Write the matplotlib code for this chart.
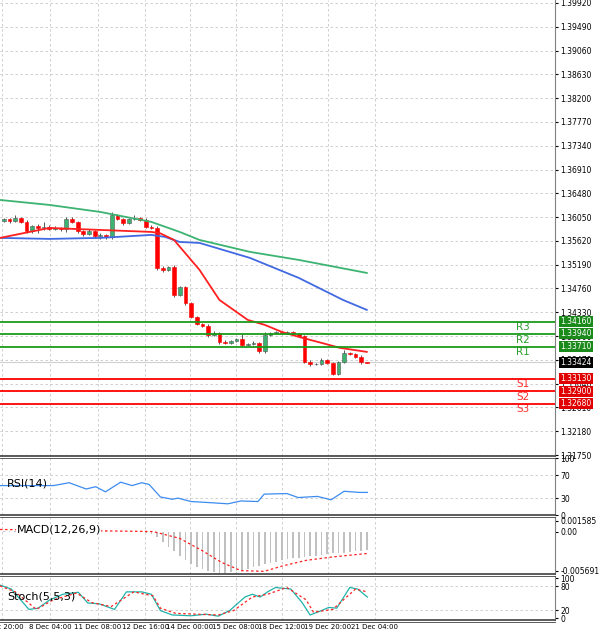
import matplotlib.pyplot as plt
import matplotlib.transforms as mtransforms

# ---- data ----
closes = [1.3601, 1.3598, 1.3603, 1.3597, 1.3580, 1.3589, 1.3585, 1.3588, 1.3584, 1.3586,
          1.3583, 1.3602, 1.3596, 1.3580, 1.3574, 1.3580, 1.3570, 1.3573, 1.3569, 1.3608,
          1.3601, 1.3594, 1.3601, 1.3603, 1.3600, 1.3588, 1.3586,
          1.3513, 1.3509, 1.3515, 1.3464, 1.3478, 1.3449, 1.3425, 1.3412, 1.3409, 1.3392,
          1.3396, 1.3380, 1.3378, 1.3381, 1.3385, 1.3374, 1.3376, 1.3378, 1.3363, 1.3392,
          1.3395, 1.3398, 1.3396, 1.3397, 1.3394, 1.3390, 1.3344,
          1.3339, 1.3340, 1.3347, 1.3342, 1.3322, 1.3343, 1.3359, 1.3358, 1.3353, 1.3343, 1.3342]
first_open = 1.3598
wick_up = [3, 2, 5, 2, 3, 2, 3, 8, 2, 3, 2, 4, 3, 2, 2, 3, 2, 3, 2, 6,
           3, 2, 2, 6, 2, 3, 2, 3, 4, 2, 3, 2, 2, 3, 2, 2, 2, 3, 2, 3,
           2, 2, 8, 2, 3, 2, 6, 3, 2, 2, 2, 3, 2, 2, 2, 2, 3, 2, 2, 2,
           5, 2, 2, 3, 1]
wick_dn = [2, 3, 2, 3, 4, 3, 8, 3, 3, 2, 3, 5, 2, 3, 3, 2, 3, 4, 3, 3,
           2, 3, 2, 2, 2, 3, 2, 4, 3, 2, 3, 2, 2, 3, 2, 2, 3, 2, 5, 3,
           2, 2, 3, 2, 2, 3, 4, 2, 2, 3, 2, 3, 2, 3, 3, 2, 2, 2, 3, 3,
           2, 2, 2, 3, 1]

ma_red_x = [-0.7, 8, 17, 26, 27.5, 30, 34.5, 38, 43, 46, 49, 52, 56, 59.3, 64]
ma_red_y = [1.35674, 1.35854, 1.35818, 1.35782, 1.35760, 1.35637, 1.35095, 1.34553,
            1.34192, 1.34102, 1.33975, 1.33885, 1.33777, 1.33686, 1.33614]
ma_blue_x = [-0.7, 8, 17, 26, 28.4, 31, 34.5, 43.4, 52, 59.8, 64]
ma_blue_y = [1.35674, 1.35656, 1.35674, 1.35728, 1.35692, 1.35601, 1.35583, 1.35312,
             1.34951, 1.34553, 1.34373]
ma_green_x = [-0.7, 8, 17, 26, 31, 34.5, 43.4, 52, 64]
ma_green_y = [1.36360, 1.36270, 1.36143, 1.35963, 1.35782, 1.35637, 1.35421, 1.35276, 1.35041]

res_levels = [1.34160, 1.33940, 1.33710]
res_names = ['R3', 'R2', 'R1']
sup_levels = [1.33130, 1.32900, 1.32680]
sup_names = ['S1', 'S2', 'S3']
last_price = 1.33424

price_ticks = [1.39920, 1.39490, 1.39060, 1.38630, 1.38200, 1.37770, 1.37340, 1.36910,
               1.36480, 1.36050, 1.35620, 1.35190, 1.34760, 1.34330, 1.33900, 1.33470,
               1.33040, 1.32610, 1.32180, 1.31750]

rsi_x = [-0.7, 8.7, 11.5, 14.5, 16.2, 17.9, 20.6, 22.6, 24.3, 25.6, 27.6, 29.7, 30.7,
         33.0, 36.4, 39.5, 41.8, 44.8, 45.9, 49.9, 51.9, 55.3, 57.7, 60.0, 62.7, 64.1]
rsi_y = [52, 52, 57, 46, 50, 41, 58, 52, 57, 54, 32, 28, 30, 24, 22, 20, 25, 24, 37,
         38, 31, 33, 27, 42, 40, 40]

macd_hist = [0.0001, 0.0001, 0.0001, 0.0, 0.0, 0.0, 0.0, 0.0, 0.0, 0.0, 0.0, 0.0, 0.0,
             0.0, 0.0, 0.0001, 0.0001, 0.0001, 0.0001, 0.0, 0.0, 0.0, 0.0, -0.0001,
             -0.0001, -0.0002,
             -0.0004, -0.0008, -0.0015, -0.0022, -0.0029, -0.0036, -0.0042, -0.0047,
             -0.0051, -0.0054, -0.0057, -0.0059, -0.0060, -0.0060, -0.0059, -0.0058,
             -0.0056, -0.0054, -0.0052, -0.0050, -0.0048, -0.0046, -0.0044, -0.0042,
             -0.0040, -0.0039, -0.0038, -0.0037, -0.0036, -0.0035, -0.0034, -0.0033,
             -0.0032, -0.0032, -0.0031, -0.0030, -0.0029, -0.0028, -0.0027]
macd_sig_x = [-0.7, 26.3, 31, 35, 38.4, 41.8, 45.9, 49.2, 53.3, 58, 64.1]
macd_sig_y = [0.0003, 0.0000, -0.0010, -0.0028, -0.0045, -0.0057, -0.0058, -0.0050,
              -0.0042, -0.0037, -0.0032]

stoch_x = [-0.7, 1.3, 4.4, 6.0, 8.1, 10.4, 13.1, 14.8, 16.8, 19.5, 21.6, 24.3, 26, 27.6,
           29.7, 33, 35.7, 37.8, 39.8, 42.5, 43.8, 45.2, 46.5, 47.9, 50.6, 52.6, 54,
           56, 57.3, 58.7, 61, 62.4, 64.1]
stoch_k = [83, 73, 22, 25, 46, 60, 65, 38, 36, 22, 66, 66, 60, 19, 8, 6, 10, 5, 19, 53,
           60, 53, 66, 77, 73, 39, 8, 19, 27, 25, 77, 73, 53]
stoch_sig_x = [-0.7, 2, 5.7, 8.7, 12.8, 15.5, 18.9, 22.9, 26.3, 27.6, 30.3, 37.8, 40.5,
               43.8, 46.5, 49.9, 53.3, 54.6, 58, 62, 64.1]
stoch_d = [81, 66, 22, 46, 63, 39, 29, 66, 56, 25, 12, 8, 19, 53, 60, 77, 46, 15, 22, 73, 66]

date_pos = [-0.3, 8.1, 16.6, 24.9, 32.8, 40.9, 49.0, 57.1, 65.4]
date_labels = ['7 Dec 20:00', '8 Dec 04:00', '11 Dec 08:00', '12 Dec 16:00', '14 Dec 00:00',
               '15 Dec 08:00', '18 Dec 12:00', '19 Dec 20:00', '21 Dec 04:00']

# ---- figure ----
fig = plt.figure(figsize=(6, 6.4), dpi=100)
W = 0.925
ax = fig.add_axes([0, 0.2875, W, 0.7125])
ax_rsi = fig.add_axes([0, 0.195, W, 0.089])
ax_macd = fig.add_axes([0, 0.103, W, 0.089])
ax_st = fig.add_axes([0, 0.031, W, 0.0685])
xlim = (-0.7, 97.2)
grid_kw = dict(color='#c8c8c8', linestyle=(0, (3, 3)), linewidth=0.6)

for a in (ax, ax_rsi, ax_macd, ax_st):
    a.set_xlim(*xlim)
    a.set_xticks(date_pos)
    a.xaxis.grid(True, **grid_kw)
    a.yaxis.tick_right()
    a.tick_params(axis='y', labelsize=5.5, length=2, pad=2)
    a.tick_params(axis='x', length=0, labelbottom=False)
    for s in ('top', 'bottom', 'left'):
        a.spines[s].set_visible(False)
    a.spines['right'].set_color('#808080')
    a.set_axisbelow(True)

# main price panel
ax.set_ylim(1.31732, 1.39974)
ax.set_yticks(price_ticks)
ax.set_yticklabels([f'{t:.5f}' for t in price_ticks])
ax.yaxis.grid(True, **grid_kw)
ax.axhline(last_price, color='#d0d0d0', linewidth=0.8)

opens = [first_open] + closes[:-1]
for i, (o, c) in enumerate(zip(opens, closes)):
    hi = max(o, c) + wick_up[i] * 0.0001
    lo = min(o, c) - wick_dn[i] * 0.0001
    col = '#3cb371' if c >= o else '#ff0000'
    ax.vlines(i, lo, hi, color='#555555', linewidth=0.7, zorder=2)
    ax.bar(i, max(abs(c - o), 0.00004), bottom=min(o, c), width=0.65, color=col,
           edgecolor='#555555' if c >= o else '#ff0000', linewidth=0.4, zorder=3)

ax.plot(ma_green_x, ma_green_y, color='#3cb371', linewidth=1.3, zorder=4)
ax.plot(ma_blue_x, ma_blue_y, color='#4169e1', linewidth=1.3, zorder=4)
ax.plot(ma_red_x, ma_red_y, color='#ff2020', linewidth=1.3, zorder=4)

ytrans = mtransforms.blended_transform_factory(ax.transAxes, ax.transData)
for lv, nm in zip(res_levels, res_names):
    ax.axhline(lv, color='#1a9a1a', linewidth=1.3, zorder=5)
    ax.text(91.5, lv - 0.00012, nm, color='#2e9e2e', fontsize=7.5, ha='center', va='top')
    ax.text(1.01, lv, f'{lv:.5f}', transform=ytrans, clip_on=False, fontsize=5.5,
            color='white', va='center', ha='left',
            bbox=dict(boxstyle='square,pad=0.15', facecolor='#1a8a1a', edgecolor='none'))
for lv, nm in zip(sup_levels, sup_names):
    ax.axhline(lv, color='#ff0000', linewidth=1.3, zorder=5)
    ax.text(91.5, lv - 0.00012, nm, color='#ff3030', fontsize=7.5, ha='center', va='top')
    ax.text(1.01, lv, f'{lv:.5f}', transform=ytrans, clip_on=False, fontsize=5.5,
            color='white', va='center', ha='left',
            bbox=dict(boxstyle='square,pad=0.15', facecolor='#e00000', edgecolor='none'))
ax.text(1.01, last_price, f'{last_price:.5f}', transform=ytrans, clip_on=False,
        fontsize=5.5, color='white', va='center', ha='left',
        bbox=dict(boxstyle='square,pad=0.15', facecolor='black', edgecolor='none'))

# RSI
ax_rsi.set_ylim(0, 100)
ax_rsi.set_yticks([100, 70, 30, 0])
ax_rsi.axhline(70, **grid_kw)
ax_rsi.axhline(30, **grid_kw)
ax_rsi.plot(rsi_x, rsi_y, color='#3c8cf0', linewidth=0.9)
ax_rsi.text(0.5, 55, 'RSI(14)', fontsize=8, va='center')

# MACD
ax_macd.set_ylim(-0.0062, 0.0021)
ax_macd.set_yticks([0.001585, 0.0, -0.005691])
ax_macd.set_yticklabels(['0.001585', '0.00', '-0.005691'])
ax_macd.bar(range(len(macd_hist)), macd_hist, width=0.3, color='#c0c0c0')
ax_macd.plot(macd_sig_x, macd_sig_y, color='#ff2020', linestyle=(0, (2, 2)), linewidth=0.9)
ax_macd.text(2.2, 0.0003, 'MACD(12,26,9)', fontsize=8, va='center',
             bbox=dict(facecolor='white', edgecolor='none', pad=0.5))

# Stochastic
ax_st.set_ylim(-5, 105)
ax_st.set_yticks([100, 80, 20, 0])
ax_st.axhline(80, **grid_kw)
ax_st.axhline(20, **grid_kw)
ax_st.plot(stoch_x, stoch_k, color='#20b2aa', linewidth=0.9)
ax_st.plot(stoch_sig_x, stoch_d, color='#ff2020', linestyle=(0, (2, 2)), linewidth=0.9)
ax_st.text(0.5, 55, 'Stoch(5,5,3)', fontsize=8, va='center')
ax_st.tick_params(axis='x', labelbottom=True, labelsize=5, pad=3)
ax_st.set_xticklabels(date_labels)

# panel separators
for y in (0.2875, 0.195, 0.103, 0.031):
    fig.add_artist(plt.Line2D([0, W], [y, y], color='#404040', linewidth=1.2))
    fig.add_artist(plt.Line2D([0, W], [y - 0.003, y - 0.003], color='#404040', linewidth=0.6))

fig.savefig('out.png', dpi=100, facecolor='white')
